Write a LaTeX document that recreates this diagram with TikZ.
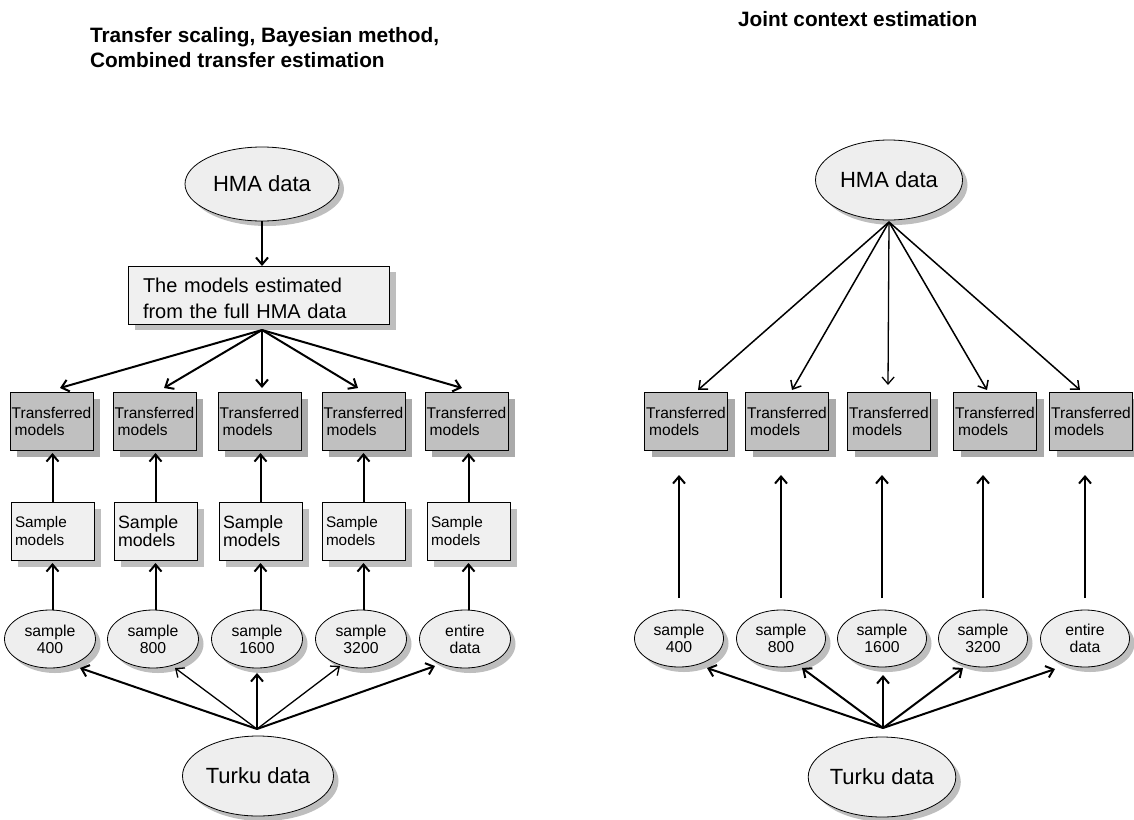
\documentclass[tikz,border=0pt]{standalone}
\usepackage{fontspec}
\setmainfont{Liberation Sans}
\usetikzlibrary{arrows.meta,shadows,shapes.geometric}

\definecolor{ellfill}{HTML}{EEEEEE}
\definecolor{boxfill}{HTML}{F0F0F0}
\definecolor{trfill}{HTML}{C0C0C0}
\definecolor{lightshade}{HTML}{BEBEBE}
\definecolor{darkshade}{HTML}{AAAAAA}

\tikzset{
  every node/.style={inner sep=0pt, outer sep=0pt},
  ell/.style={ellipse, draw=black, line width=0.8pt, fill=ellfill, align=center,
    drop shadow={shadow xshift=5pt, shadow yshift=-5pt, fill=lightshade, opacity=1}},
  bigell/.style={ell, font=\fontsize{22}{24}\selectfont},
  smallell/.style={ell, minimum width=91pt, minimum height=58pt, font=\fontsize{15.8}{17}\selectfont},
  estbox/.style={rectangle, draw=black, line width=0.8pt, fill=boxfill,
    minimum width=261pt, minimum height=58pt, inner xsep=15pt, text width=231pt, align=left,
    font=\fontsize{20}{26}\selectfont,
    drop shadow={shadow xshift=7pt, shadow yshift=-6pt, fill=lightshade, opacity=1}},
  trbox/.style={rectangle, draw=black, line width=0.8pt, fill=trfill,
    minimum width=83pt, minimum height=58pt, align=left,
    font=\fontsize{15.5}{17}\selectfont,
    drop shadow={shadow xshift=7pt, shadow yshift=-7pt, fill=darkshade, opacity=1}},
  sampbox/.style={rectangle, draw=black, line width=0.8pt, fill=boxfill,
    minimum width=83pt, minimum height=58pt, inner xsep=4pt, text width=75pt, align=left,
    drop shadow={shadow xshift=7pt, shadow yshift=-7pt, fill=lightshade, opacity=1}},
  sampsmall/.style={sampbox, font=\fontsize{15.3}{18}\selectfont},
  sampbig/.style={sampbox, font=\fontsize{17.8}{18}\selectfont},
  title/.style={anchor=base west, align=left, font=\fontsize{20.8}{25}\selectfont\bfseries},
  arr/.style={-{Straight Barb[length=7pt,width=12pt]}, line width=2pt},
  arrmid/.style={arr, line width=1.5pt},
  arrthin/.style={arr, line width=1.3pt},
}

\begin{document}
\begin{tikzpicture}[x=1pt, y=-1pt]
\useasboundingbox (0,0) rectangle (1134,819);

% ---------- titles (base anchor sits on the last line) ----------
\node[title] (titleL) at (90,67) {Transfer scaling, Bayesian method,\\Combined transfer estimation};
\node[title] (titleR) at (738,27) {Joint context estimation};

% ================= left panel =================
\node[bigell, minimum width=154pt, minimum height=74pt] (hmaL) at (262,184) {HMA data};
\node[estbox] (estL) at (258.5,295) {\rule{0pt}{22pt}The models estimated\\from the full HMA data};

\foreach \i/\x in {1/51.5, 2/154.5, 3/259.5, 4/363.5, 5/466.5}
  \node[trbox] (tL\i) at (\x,421) {Transferred\\\hspace*{3pt}models};

\node[sampsmall] (sL1) at (52.5,531) {Sample\\models};
\node[sampbig]   (sL2) at (155.5,531) {Sample\\models};
\node[sampbig]   (sL3) at (260.5,531) {Sample\\models};
\node[sampsmall] (sL4) at (363.5,531) {Sample\\models};
\node[sampsmall] (sL5) at (468.5,531) {Sample\\models};

\node[smallell] (eL1) at (50,639)  {sample\\400};
\node[smallell] (eL2) at (153,639) {sample\\800};
\node[smallell] (eL3) at (257,639) {sample\\1600};
\node[smallell] (eL4) at (361,639) {sample\\3200};
\node[smallell] (eL5) at (465,639) {entire\\data};

\node[bigell, minimum width=151pt, minimum height=80pt] (turkuL) at (258,776) {Turku data};

% connectors
\draw[arr] (hmaL.south) -- (hmaL.south |- estL.north);
\coordinate (fanL) at ([shift={(3.5,6)}]estL.south);
\draw[arr] (fanL) -- ([shift={(8.5,-4)}]tL1.north);
\draw[arr] (fanL) -- ([shift={(9.5,-4)}]tL2.north);
\draw[arr] (fanL) -- ([shift={(2.5,-4)}]tL3.north);
\draw[arr] (fanL) -- ([shift={(-5.5,-4)}]tL4.north);
\draw[arr] (fanL) -- ([shift={(-4.5,-4)}]tL5.north);

\foreach \i in {1,...,5} {
  \draw[arr] (sL\i.north) -- ([shift={(0,3)}]sL\i.north |- tL\i.south);
  \draw[arr] (sL\i.south |- eL\i.north) -- ([shift={(0,3)}]sL\i.south);
}

\coordinate (fanLb) at ([shift={(-1,-7)}]turkuL.north);
\draw[arr]     (fanLb) -- ([shift={(30,29)}]eL1.center);
\draw[arrthin] (fanLb) -- ([shift={(22,29)}]eL2.center);
\draw[arr]     (fanLb) -- ([shift={(0,34)}]eL3.center);
\draw[arrthin] (fanLb) -- ([shift={(-21,27)}]eL4.center);
\draw[arr]     (fanLb) -- ([shift={(-30,27)}]eL5.center);

% ================= right panel =================
\node[bigell, minimum width=147pt, minimum height=80pt] (hmaR) at (889,180) {HMA data};

\foreach \i/\x in {1/686, 2/787, 3/889, 4/995, 5/1091}
  \node[trbox] (tR\i) at (\x,421) {Transferred\\\hspace*{3pt}models};

\node[smallell, minimum width=89pt, minimum height=57pt] (eR1) at (679,638.5)  {sample\\400};
\node[smallell, minimum width=89pt, minimum height=57pt] (eR2) at (781,638.5)  {sample\\800};
\node[smallell, minimum width=89pt, minimum height=57pt] (eR3) at (882,638.5)  {sample\\1600};
\node[smallell, minimum width=89pt, minimum height=57pt] (eR4) at (983,638.5)  {sample\\3200};
\node[smallell, minimum width=89pt, minimum height=57pt] (eR5) at (1085,638.5) {entire\\data};

\node[bigell, minimum width=146pt, minimum height=80pt] (turkuR) at (882,777) {Turku data};

% connectors
\coordinate (fanR) at ([shift={(0,2)}]hmaR.south);
\draw[arrmid] (fanR) -- ([shift={(12,-2)}]tR1.north);
\draw[arrmid] (fanR) -- ([shift={(5,-2)}]tR2.north);
\draw[arrthin] (fanR) -- ([shift={(-1,-7)}]tR3.north);
\draw[arrmid] (fanR) -- ([shift={(-8,-2)}]tR4.north);
\draw[arrmid] (fanR) -- ([shift={(-11,-2)}]tR5.north);

\foreach \i in {1,...,5} {
  \coordinate (vR\i a) at ([shift={(0,-12)}]eR\i.north);
  \coordinate (vR\i b) at ([shift={(0,25)}]eR\i.north |- tR\i.south);
  \draw[arr] (vR\i a) -- (vR\i b);
}

\coordinate (fanRb) at ([shift={(1,-9)}]turkuR.north);
\draw[arr] (fanRb) -- ([shift={(28,29.5)}]eR1.center);
\draw[arr] (fanRb) -- ([shift={(21,29.5)}]eR2.center);
\draw[arr] (fanRb) -- ([shift={(1,36.5)}]eR3.center);
\draw[arr] (fanRb) -- ([shift={(-20,29.5)}]eR4.center);
\draw[arr] (fanRb) -- ([shift={(-30,30.5)}]eR5.center);
\end{tikzpicture}
\end{document}
